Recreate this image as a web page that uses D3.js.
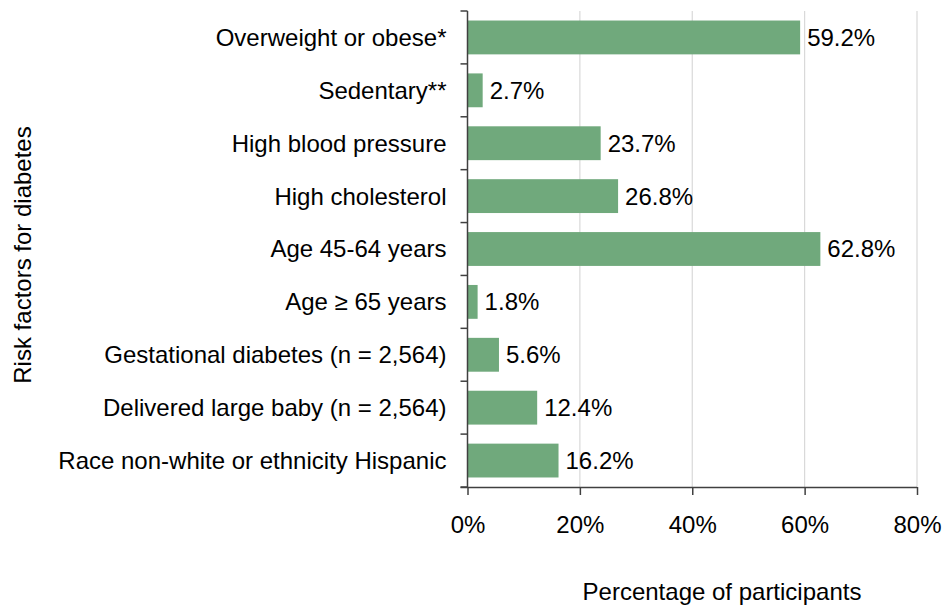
<!DOCTYPE html>
<html>
<head>
<meta charset="utf-8">
<script src="https://cdn.jsdelivr.net/npm/d3@7"></script>
<style>
body { margin: 0; background: #fff; }
text { font-family: "Liberation Sans", Arial, sans-serif; fill: #000; }
</style>
</head>
<body>
<div id="chart"></div>
<script>
var WIDTH = 951;
var HEIGHT = 606;

var categories = [
	'Overweight or obese*',
	'Sedentary**',
	'High blood pressure',
	'High cholesterol',
	'Age 45-64 years',
	'Age \u2265 65 years',
	'Gestational diabetes (n = 2,564)',
	'Delivered large baby (n = 2,564)',
	'Race non-white or ethnicity Hispanic'
];
var values = [59.2, 2.7, 23.7, 26.8, 62.8, 1.8, 5.6, 12.4, 16.2];
var xTicks = [0, 20, 40, 60, 80];

var FONT = '24px';
var margin = {top: 11, right: 34, bottom: 119, left: 467.5};
var plotW = WIDTH - margin.left - margin.right;
var plotH = HEIGHT - margin.top - margin.bottom;

var svg = d3.select('#chart').append('svg')
	.attr('width', WIDTH)
	.attr('height', HEIGHT);

var g = svg.append('g')
	.attr('transform', 'translate(' + margin.left + ',' + margin.top + ')');

var x = d3.scaleLinear().domain([0, 80]).range([0, plotW]);
var y = d3.scaleBand().domain(categories).range([0, plotH]).paddingInner(0.36).paddingOuter(0.18);

// gridlines
g.selectAll('line.grid')
	.data(xTicks.slice(1))
	.enter().append('line')
	.attr('class', 'grid')
	.attr('x1', function(d) { return x(d); })
	.attr('x2', function(d) { return x(d); })
	.attr('y1', 0)
	.attr('y2', plotH)
	.attr('stroke', '#d9d9d9')
	.attr('stroke-width', 1.2);

// bars
g.selectAll('rect.bar')
	.data(values)
	.enter().append('rect')
	.attr('class', 'bar')
	.attr('x', 0)
	.attr('y', function(d, i) { return y(categories[i]); })
	.attr('width', function(d) { return x(d); })
	.attr('height', y.bandwidth())
	.attr('fill', '#70a97c');

// value labels
g.selectAll('text.val')
	.data(values)
	.enter().append('text')
	.attr('class', 'val')
	.attr('x', function(d) { return x(d) + 7; })
	.attr('y', function(d, i) { return y(categories[i]) + y.bandwidth() / 2; })
	.attr('dy', '0.35em')
	.style('font-size', FONT)
	.text(function(d) { return d.toFixed(1) + '%'; });

// x axis
var xAxis = g.append('g')
	.attr('transform', 'translate(0,' + plotH + ')')
	.call(d3.axisBottom(x).tickValues(xTicks).tickSize(8).tickPadding(21)
		.tickFormat(function(d) { return d + '%'; }));
xAxis.select('.domain').attr('stroke', '#404040').attr('stroke-width', 1.5).attr('d', 'M-7,0.5H' + plotW);
xAxis.selectAll('.tick line').attr('stroke', '#404040').attr('stroke-width', 1.5);
xAxis.selectAll('.tick text').style('font-size', FONT).style('font-family', '"Liberation Sans", Arial, sans-serif').attr('fill', '#000');

// y axis: ticks at band boundaries
var yAxis = g.append('g');
yAxis.append('line')
	.attr('x1', 0).attr('x2', 0).attr('y1', 0).attr('y2', plotH)
	.attr('stroke', '#404040').attr('stroke-width', 1.5);
var bounds = d3.range(categories.length + 1).map(function(i) { return i * plotH / categories.length; });
yAxis.selectAll('line.ytick')
	.data(bounds)
	.enter().append('line')
	.attr('class', 'ytick')
	.attr('x1', -7).attr('x2', 0)
	.attr('y1', function(d) { return d; })
	.attr('y2', function(d) { return d; })
	.attr('stroke', '#404040').attr('stroke-width', 1.5);
yAxis.selectAll('text.ylab')
	.data(categories)
	.enter().append('text')
	.attr('class', 'ylab')
	.attr('x', -21)
	.attr('y', function(d) { return y(d) + y.bandwidth() / 2; })
	.attr('dy', '0.35em')
	.attr('text-anchor', 'end')
	.style('font-size', FONT)
	.text(function(d) { return d; });

// axis titles
svg.append('text')
	.attr('x', 722)
	.attr('y', 600)
	.attr('text-anchor', 'middle')
	.style('font-size', FONT)
	.text('Percentage of participants');

svg.append('text')
	.attr('transform', 'translate(31,255) rotate(-90)')
	.attr('text-anchor', 'middle')
	.style('font-size', FONT)
	.text('Risk factors for diabetes');
</script>
</body>
</html>
